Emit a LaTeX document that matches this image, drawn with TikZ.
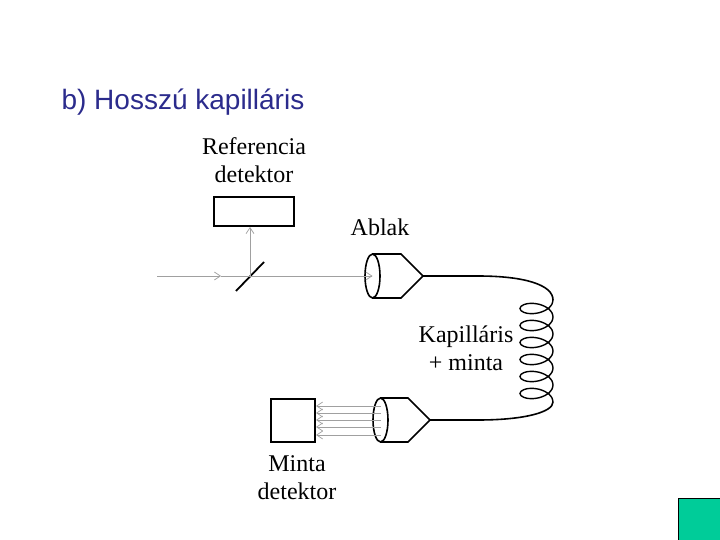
\documentclass[tikz,border=0pt]{standalone}
\usepackage{fontspec}
\setmainfont{Liberation Serif}
\newfontfamily\titlefont{Liberation Sans}
\usetikzlibrary{arrows.meta, positioning, calc}
\definecolor{ctitle}{HTML}{2B2B8C}
\definecolor{cray}{HTML}{A0A0A0}
\definecolor{cteal}{HTML}{00CC99}
\tikzset{
  every picture/.style={line width=1.2pt},
  detbox/.style={draw=black, line width=2pt, inner sep=0pt},
  lbl/.style={font=\fontsize{24}{28}\selectfont, align=center, text=black},
  ray/.style={draw=cray, line width=1pt},
  rayhead/.style={ray, -{Straight Barb[length=6pt,width=8pt,line width=0.7pt]}},
  tube/.style={draw=black, line width=1.6pt},
}
\begin{document}
\begin{tikzpicture}[x=1pt, y=-1pt]
  \useasboundingbox (0,0) rectangle (720,540);
  \node[font=\titlefont\fontsize{28}{32}\selectfont, text=ctitle, anchor=west, inner sep=0pt] (title) at (61,102.5) {b) Hosszú kapilláris};
  \node[draw=black, fill=cteal, line width=1pt, minimum width=43pt, minimum height=43pt, inner sep=0pt, anchor=north west] (corner) at (678,498) {};
  % labels
  \node[lbl] (reflabel) at (254,160.5) {Referencia\\detektor};
  \node[lbl] (ablak) at (380,227) {Ablak};
  \node[lbl] (caplabel) at (466,348) {Kapilláris\\+ minta};
  \node[lbl] (samplabel) at (297,478) {Minta\\detektor};
  % detectors and mirror
  \node[detbox, minimum width=80pt, minimum height=29pt] (refdet) at (254,211.5) {};
  \node[detbox, minimum width=44pt, minimum height=43pt] (sampdet) at (293,420.5) {};
  \coordinate (mirror) at (250,276);
  \draw[black, line width=1.8pt] (236,291) -- (264,262);
  % the two windows
  \coordinate (inwin) at (372.5,276);
  \coordinate (inwintip) at (423,276);
  \coordinate (outwin) at (380.5,420);
  \coordinate (outwintip) at (430,420);
  \foreach \cx/\cy/\bx/\tx in {372.5/276/401/423, 380.5/420/408/430} {
    \draw[tube] (\cx,\cy-22) -- (\bx,\cy-22) -- (\tx,\cy) -- (\bx,\cy+22) -- (\cx,\cy+22);
    \draw[tube] (\cx,\cy) ellipse [x radius=7.5, y radius=22];
  }
  % beams
  \coordinate (source) at (157,276);
  \coordinate (midbeam) at (221,276);
  \draw[rayhead] (source) -- (midbeam);
  \draw[ray] (midbeam) -- (mirror);
  \draw[rayhead] (mirror) -- (inwin);
  \draw[rayhead] (mirror) -- (refdet.south -| mirror);
  \foreach \y in {406,413,420,427,435}
    \draw[rayhead] (381,\y) -- (316,\y);
  % capillary
  \coordinate (cointop) at (553,300);
  \coordinate (coinbot) at (553,402);
  \draw[tube] (inwintip) -- (478,276) .. controls (525,276) and (553,285) .. (cointop);
  \draw[tube, line width=1.4pt] plot[smooth, domain=0:2160, samples=109, variable=\t] ({536.5+16.5*cos(\t)},{300+\t/360*17+9*sin(\t)});
  \draw[tube] (coinbot) .. controls (553,412) and (525,420) .. (478,420) -- (outwintip);
\end{tikzpicture}
\end{document}
